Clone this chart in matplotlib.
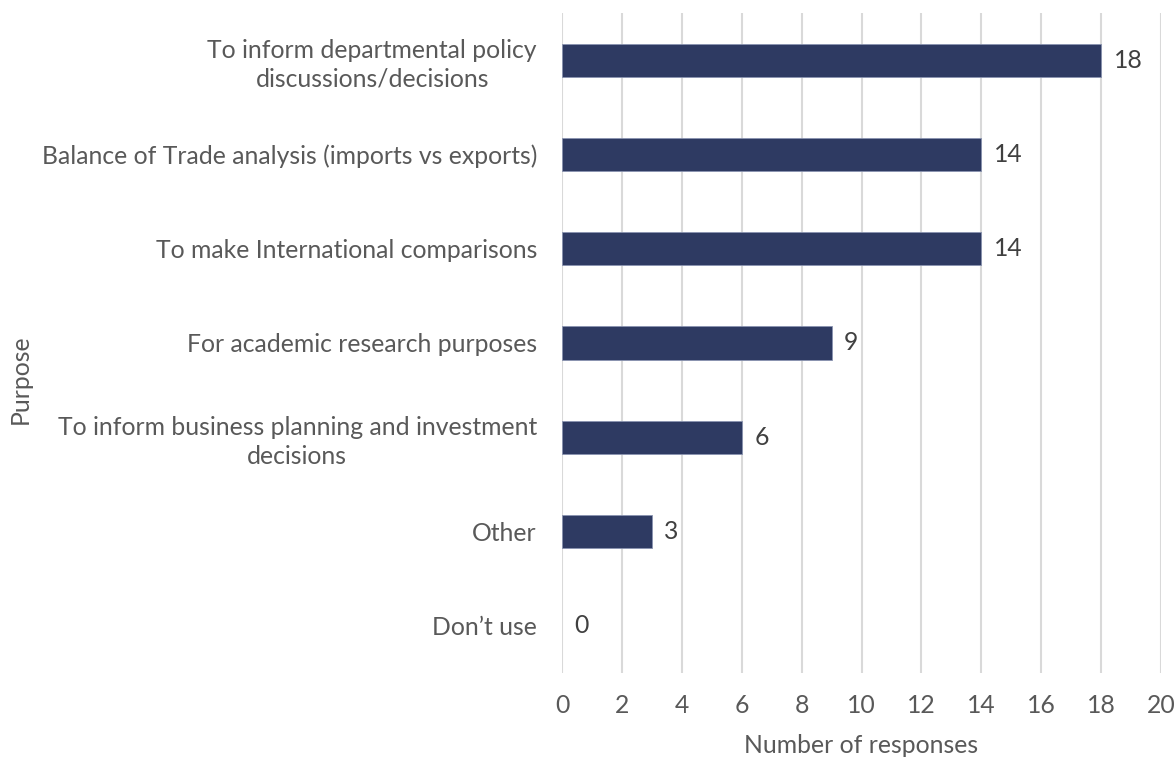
import matplotlib
matplotlib.use("Agg")
import matplotlib.pyplot as plt

# survey responses: what the trade data is used for
purposes = [
    "To inform departmental policy\ndiscussions/decisions",
    "Balance of Trade analysis (imports vs exports)",
    "To make International comparisons",
    "For academic research purposes",
    "To inform business planning and investment\ndecisions",
    "Other",
    "Don\u2019t use",
]
responses = [18, 14, 14, 9, 6, 3, 0]
xticks = list(range(0, 21, 2))

bar_colour = "#2E3A62"
text_colour = "#595959"
grid_colour = "#D9D9D9"
fs = 17.8

plt.rcParams["font.family"] = ["Lato", "DejaVu Sans"]

fig = plt.figure(figsize=(11.74, 7.58), dpi=100)
ax = fig.add_axes([0.4787, 0.112, 0.5103, 0.871])

ypos = list(range(len(purposes)))
bars = ax.barh(ypos, responses, height=0.35, color=bar_colour,
               edgecolor="#8A93B0", linewidth=0.6, zorder=3)
for b, v in zip(bars, responses):
    if v == 0:
        b.set_visible(False)

for y, v in zip(ypos, responses):
    ax.annotate(str(v), (v, y), xytext=(9, 0), textcoords="offset points",
                va="center", ha="left", fontsize=fs, color="#404040")

ax.set_xlim(0, 20)
ax.set_ylim(len(purposes) - 0.5, -0.5)
ax.set_xticks(xticks)
ax.set_yticks(ypos)
ax.set_yticklabels(purposes, multialignment="center", linespacing=1.3)
ax.tick_params(axis="both", length=0, labelsize=fs, labelcolor=text_colour)
ax.tick_params(axis="y", pad=18)
ax.tick_params(axis="x", pad=15)

ax.grid(axis="x", color=grid_colour, linewidth=1.5, zorder=0)
ax.set_axisbelow(True)
for s in ax.spines.values():
    s.set_visible(False)

ax.set_xlabel("Number of responses", fontsize=fs, color=text_colour, labelpad=12)
fig.text(0.017, 0.5, "Purpose", rotation=90, va="center", ha="center",
         fontsize=fs, color=text_colour)

fig.savefig("out.png", dpi=100)
